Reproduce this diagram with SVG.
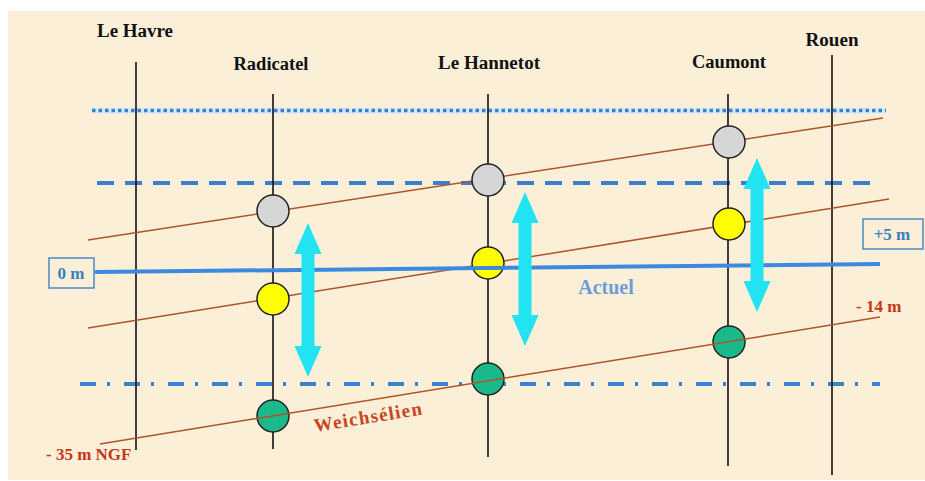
<svg xmlns="http://www.w3.org/2000/svg" width="925" height="481" viewBox="0 0 925 481">
  <defs>
    <style>
      .st { stroke: #111; stroke-width: 1.6; fill: none; }
      .lbl { font-family: "Liberation Serif", "Times New Roman", serif; font-weight: bold; font-size: 18px; fill: #111; text-anchor: middle; }
      .red { stroke: #b0532c; stroke-width: 1.5; fill: none; }
      .halo { stroke: #d6ecf8; stroke-width: 6; fill: none; }
      .lvl { stroke: #3d7fcf; fill: none; }
      .box { fill: none; stroke: #4a8ac8; stroke-width: 1.5; }
      .btxt { font-family: "Liberation Serif", "Times New Roman", serif; font-weight: bold; font-size: 17px; fill: #3a7fc0; text-anchor: middle; }
      .rtxt { font-family: "Liberation Serif", "Times New Roman", serif; font-weight: bold; font-size: 17px; fill: #c8361a; }
      .c { stroke: #222; stroke-width: 1.5; }
      .gray { fill: #d6d6d6; }
      .yel { fill: #ffff00; }
      .grn { fill: #1bb88a; }
      .arr { fill: #22e3f2; }
    </style>
    <path id="dbl" d="M0,0 L13.5,31 L6.5,31 L6.5,123 L13.5,123 L0,154 L-13.5,123 L-6.5,123 L-6.5,31 L-13.5,31 Z"/>
  </defs>

  <rect x="0" y="0" width="925" height="481" fill="#ffffff"/>
  <rect x="8" y="11" width="917" height="469" fill="#fcefd8"/>

  <g id="levels">
    <line class="halo" x1="92" y1="110.5" x2="886" y2="110.5"/>
    <line class="lvl" x1="92" y1="110.5" x2="886" y2="110.5" stroke-width="3.5" stroke-dasharray="3.5 3"/>
    <line class="lvl" x1="97" y1="183" x2="873" y2="183" stroke-width="4" stroke-dasharray="17 11"/>
    <line class="lvl" x1="80" y1="384" x2="880" y2="384" stroke-width="4" stroke-dasharray="16 11 3 14"/>
  </g>

  <g id="station-le-havre">
    <line class="st" x1="136" y1="62" x2="136" y2="450"/>
    <text class="lbl" x="135" y="37" textLength="76" lengthAdjust="spacingAndGlyphs">Le Havre</text>
  </g>
  <g id="station-radicatel">
    <line class="st" x1="273" y1="94" x2="273" y2="449"/>
    <text class="lbl" x="271" y="70" textLength="75" lengthAdjust="spacingAndGlyphs">Radicatel</text>
  </g>
  <g id="station-le-hannetot">
    <line class="st" x1="488" y1="94" x2="488" y2="457"/>
    <text class="lbl" x="489" y="69" textLength="102" lengthAdjust="spacingAndGlyphs">Le Hannetot</text>
  </g>
  <g id="station-caumont">
    <line class="st" x1="728" y1="94" x2="728" y2="466"/>
    <text class="lbl" x="729" y="68" textLength="74" lengthAdjust="spacingAndGlyphs">Caumont</text>
  </g>
  <g id="station-rouen">
    <line class="st" x1="832" y1="55" x2="832" y2="475"/>
    <text class="lbl" x="832" y="46" textLength="53" lengthAdjust="spacingAndGlyphs">Rouen</text>
  </g>

  <g id="connectors">
    <line class="red" x1="88" y1="240" x2="883" y2="118"/>
    <line class="red" x1="88" y1="328" x2="889" y2="199"/>
  </g>

  <g id="markers-upper">
    <circle id="radicatel-gray" class="c gray" cx="273" cy="211" r="16"/>
    <circle id="radicatel-yellow" class="c yel" cx="273" cy="299" r="16"/>
    <circle id="hannetot-gray" class="c gray" cx="488" cy="180" r="16"/>
    <circle id="hannetot-yellow" class="c yel" cx="488" cy="263" r="16"/>
    <circle id="caumont-gray" class="c gray" cx="729" cy="142" r="16"/>
    <circle id="caumont-yellow" class="c yel" cx="729" cy="224" r="16"/>
  </g>
  <g id="markers-lower">
    <circle id="radicatel-green" class="c grn" cx="273" cy="416" r="16"/>
    <circle id="hannetot-green" class="c grn" cx="488" cy="379" r="16"/>
    <circle id="caumont-green" class="c grn" cx="729" cy="342" r="16"/>
  </g>

  <g id="weichselien-line">
    <line class="red" x1="100" y1="444" x2="880" y2="317"/>
  </g>

  <g id="actuel-line">
    <line x1="95" y1="272" x2="880" y2="264" stroke="#3b8ae0" stroke-width="4"/>
  </g>

  <g id="arrows">
    <use href="#dbl" class="arr" transform="translate(308,223)"/>
    <use href="#dbl" class="arr" transform="translate(525,192)"/>
    <use href="#dbl" class="arr" transform="translate(757,158)"/>
  </g>

  <g id="label-0m">
    <rect class="box" x="49" y="258" width="45" height="30"/>
    <text class="btxt" x="71" y="279">0 m</text>
  </g>
  <g id="label-5m">
    <rect class="box" x="863" y="219" width="60" height="30"/>
    <text class="btxt" x="892" y="240">+5 m</text>
  </g>
  <text x="606" y="294" font-family="Liberation Serif, Times New Roman, serif" font-weight="bold" font-size="20" fill="#6a9fd6" text-anchor="middle">Actuel</text>
  <text class="rtxt" x="856" y="312">- 14 m</text>
  <text class="rtxt" x="46" y="460">- 35 m NGF</text>
  <text x="315" y="432" transform="rotate(-9.2 315 432)" font-family="Liberation Serif, Times New Roman, serif" font-weight="bold" font-size="19" fill="#c8461e" letter-spacing="1.3">Weichsélien</text>
</svg>
